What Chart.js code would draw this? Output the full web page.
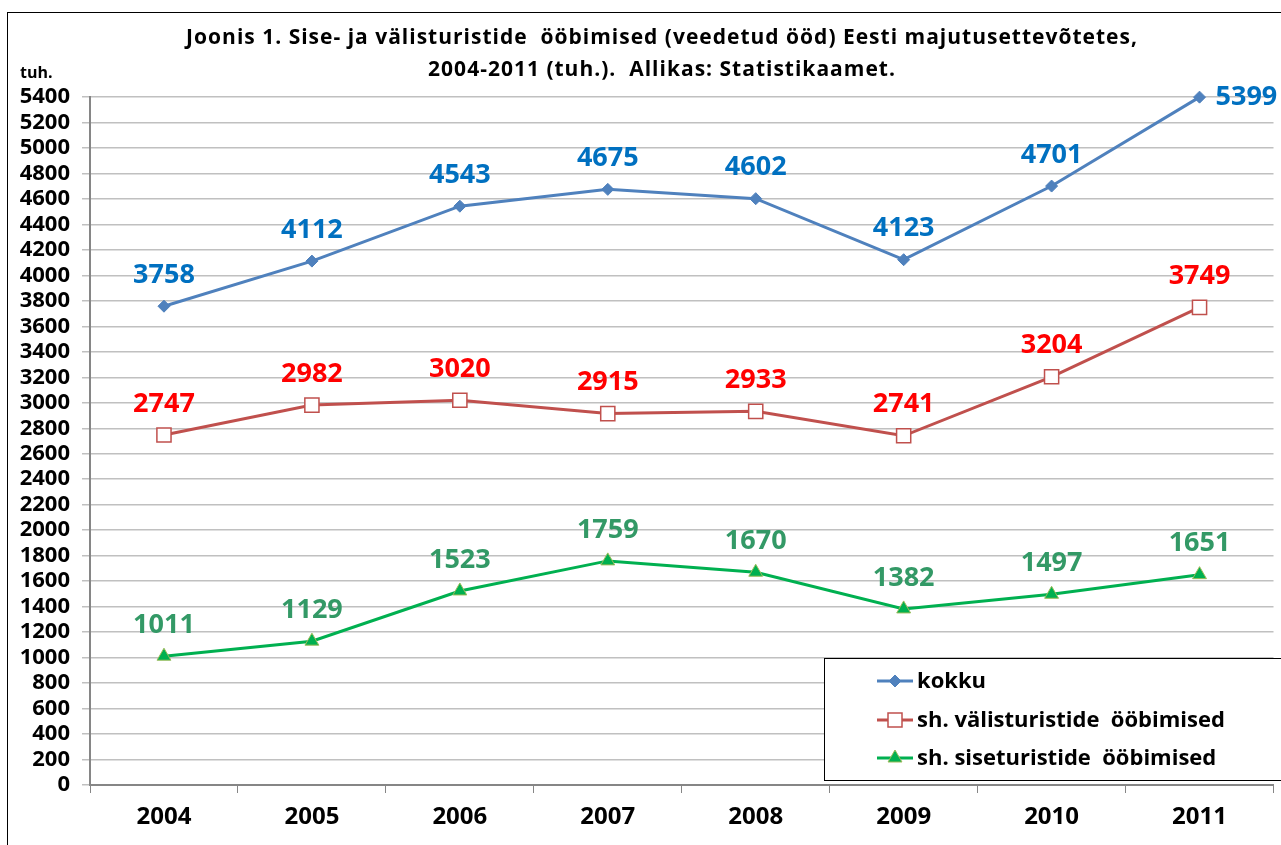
<!DOCTYPE html>
<html><head><meta charset="utf-8">
<script src="https://cdn.jsdelivr.net/npm/chart.js@4.4.0/dist/chart.umd.min.js"></script>
<style>html,body{margin:0;padding:0;background:#fff;overflow:hidden}#wrap{width:1281px;height:845px;position:relative;overflow:hidden}</style>
</head><body><div id="wrap"><canvas id="c" width="1285" height="845"></canvas></div>
<script>
const years = ['2004','2005','2006','2007','2008','2009','2010','2011'];
const kokku = [3758, 4112, 4543, 4675, 4602, 4123, 4701, 5399];
const valis = [2747, 2982, 3020, 2915, 2933, 2741, 3204, 3749];
const sise = [1011, 1129, 1523, 1759, 1670, 1382, 1497, 1651];
const seriesNames = ['kokku', 'sh. välisturistide  ööbimised', 'sh. siseturistide  ööbimised'];
const titleLines = ['Joonis 1. Sise- ja välisturistide  ööbimised (veedetud ööd) Eesti majutusettevõtetes,', '2004-2011 (tuh.).  Allikas: Statistikaamet.'];
const yUnit = 'tuh.';

const FONT = '"Open Sans", Lato, sans-serif';
const labelColors = ['#0070C0', '#FF0000', '#339966'];

const deco = {
  id: 'deco',
  beforeDraw(chart) {
    const ctx = chart.ctx;
    ctx.save();
    ctx.fillStyle = '#fff';
    ctx.fillRect(0, 0, chart.width, chart.height);
    ctx.strokeStyle = '#000';
    ctx.lineWidth = 1;
    ctx.strokeRect(7.5, 12.5, 1400, 1000);
    ctx.fillStyle = '#000';
    ctx.font = 'bold 21px ' + FONT;
    ctx.letterSpacing = '1px';
    ctx.textAlign = 'center';
    ctx.textBaseline = 'middle';
    ctx.fillText(titleLines[0], 662, 38);
    ctx.fillText(titleLines[1], 662, 70);
    ctx.letterSpacing = '0px';
    ctx.font = 'bold 16px ' + FONT;
    ctx.textAlign = 'left';
    ctx.fillText(yUnit, 20, 73);
    ctx.restore();
  },
  afterDatasetsDraw(chart) {
    const ctx = chart.ctx;
    ctx.save();
    ctx.font = 'bold 27px ' + FONT;
    ctx.textBaseline = 'middle';
    chart.data.datasets.forEach((ds, di) => {
      const meta = chart.getDatasetMeta(di);
      ctx.fillStyle = labelColors[di];
      meta.data.forEach((pt, i) => {
        const v = ds.data[i];
        if (di === 0 && i === ds.data.length - 1) {
          ctx.textAlign = 'left';
          ctx.fillText(String(v), pt.x + 16, pt.y);
        } else {
          ctx.textAlign = 'center';
          ctx.fillText(String(v), pt.x, pt.y - 31);
        }
      });
    });
    // legend
    const lx = 824, ly = 658;
    ctx.fillStyle = '#fff';
    ctx.fillRect(lx, ly, 600, 122);
    ctx.strokeStyle = '#000';
    ctx.lineWidth = 1;
    ctx.strokeRect(lx + 0.5, ly + 0.5, 600, 122);
    const rows = [681, 720, 758];
    chart.data.datasets.forEach((ds, di) => {
      const y = rows[di];
      ctx.strokeStyle = ds.borderColor;
      ctx.lineWidth = 3;
      ctx.beginPath();
      ctx.moveTo(877, y); ctx.lineTo(913, y); ctx.stroke();
      ctx.fillStyle = ds.pointBackgroundColor;
      ctx.strokeStyle = ds.pointBorderColor;
      ctx.lineWidth = ds.pointBorderWidth || 1;
      ctx.beginPath();
      const r = ds.pointRadius;
      if (ds.pointStyle === 'rectRot') {
        ctx.moveTo(895, y - r); ctx.lineTo(895 + r, y); ctx.lineTo(895, y + r); ctx.lineTo(895 - r, y); ctx.closePath();
      } else if (ds.pointStyle === 'rect') {
        ctx.rect(895 - r * 0.7, y - r * 0.7, r * 1.4, r * 1.4);
      } else {
        ctx.moveTo(895, y - r); ctx.lineTo(895 + r * 0.87, y + r * 0.5); ctx.lineTo(895 - r * 0.87, y + r * 0.5); ctx.closePath();
      }
      ctx.fill(); ctx.stroke();
      ctx.fillStyle = '#000';
      ctx.font = 'bold 22px ' + FONT;
      ctx.textAlign = 'left';
      ctx.textBaseline = 'middle';
      ctx.fillText(ds.label, 917, y + 1);
    });
    ctx.restore();
  }
};

new Chart(document.getElementById('c'), {
  type: 'line',
  data: {
    labels: years,
    datasets: [
      { label: seriesNames[0], data: kokku, borderColor: '#4F81BD', backgroundColor: '#4F81BD', borderWidth: 3, clip: false,
        pointStyle: 'rectRot', pointRadius: 6, pointBackgroundColor: '#4F81BD', pointBorderColor: '#4F81BD', pointBorderWidth: 1 },
      { label: seriesNames[1], data: valis, borderColor: '#C0504D', backgroundColor: '#C0504D', borderWidth: 3, clip: false,
        pointStyle: 'rect', pointRadius: 10, pointBackgroundColor: '#FFFFFF', pointBorderColor: '#C0504D', pointBorderWidth: 1.5 },
      { label: seriesNames[2], data: sise, borderColor: '#00B050', backgroundColor: '#00B050', borderWidth: 3, clip: false,
        pointStyle: 'triangle', pointRadius: 8, pointBackgroundColor: '#00B050', pointBorderColor: '#9BBB59', pointBorderWidth: 1 }
    ]
  },
  options: {
    responsive: false,
    animation: false,
    events: [],
    layout: { padding: { top: 97, right: 0, left: 0, bottom: 0 } },
    plugins: { legend: { display: false }, title: { display: false }, tooltip: { enabled: false } },
    scales: {
      x: {
        offset: true,
        grid: { display: true, offset: true, drawOnChartArea: false, tickLength: 8, color: '#868686', lineWidth: 1 },
        border: { color: '#868686', width: 2 },
        ticks: { color: '#000', font: { family: FONT, size: 24, weight: 'bold' }, padding: 10 },
        afterFit(s) { s.height = 60; }
      },
      y: {
        min: 0, max: 5400,
        ticks: { stepSize: 200, autoSkip: false, color: '#000', font: { family: FONT, size: 22, weight: 'bold' }, padding: 12,
          callback: (v) => String(v) },
        grid: { color: '#C0C0C0', lineWidth: 1.5, tickLength: 8 },
        border: { color: '#868686', width: 2 },
        afterFit(s) { s.width = 90; }
      }
    }
  },
  plugins: [deco]
});
</script></body></html>
